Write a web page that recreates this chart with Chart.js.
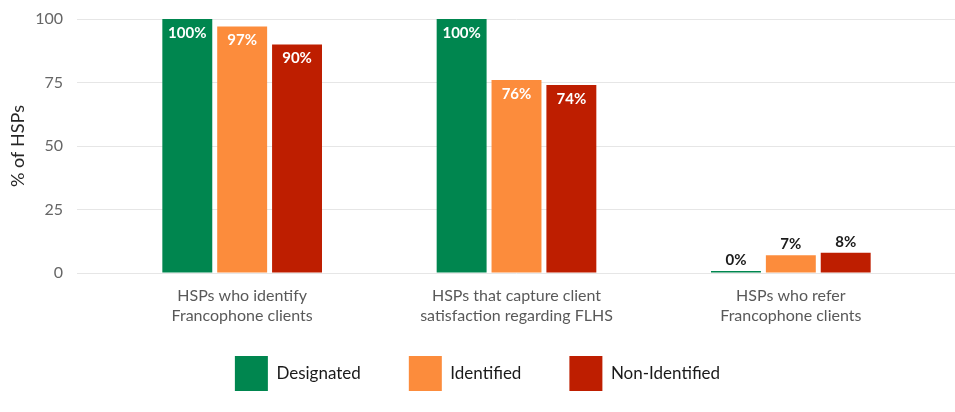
<!DOCTYPE html>
<html>
<head>
<meta charset="utf-8">
<script src="https://cdn.jsdelivr.net/npm/chart.js@4"></script>
<style>
  html, body { margin: 0; padding: 0; background: #fff; }
  #wrap { width: 955px; height: 412px; }
</style>
</head>
<body>
<div id="wrap"><canvas id="chart" width="955" height="412"></canvas></div>
<script>
// Share of HSPs by designation status
const CATEGORIES = [
  ['HSPs who identify', 'Francophone clients'],
  ['HSPs that capture client', 'satisfaction regarding FLHS'],
  ['HSPs who refer', 'Francophone clients'],
];
const DESIGNATED = [100, 100, 0];
const IDENTIFIED = [97, 76, 7];
const NON_IDENTIFIED = [90, 74, 8];
const Y_TICKS = [0, 25, 50, 75, 100];

const FONT = 'Lato';
const GRID = '#e6e6e6';
const LEGEND_HEIGHT = 86;
const LEGEND_LIFT = 18;

// value labels: white inside tall bars, dark above short ones
const valueLabels = {
  id: 'valueLabels',
  afterDatasetsDraw(chart) {
    const ctx = chart.ctx;
    ctx.save();
    ctx.font = 'bold 15px ' + FONT;
    ctx.textAlign = 'center';
    ctx.textBaseline = 'middle';
    chart.data.datasets.forEach((ds, di) => {
      chart.getDatasetMeta(di).data.forEach((bar, i) => {
        const v = ds.data[i];
        const txt = v + '%';
        if (v >= 50) {
          ctx.fillStyle = '#ffffff';
          ctx.fillText(txt, bar.x, bar.y + 14);
        } else {
          ctx.fillStyle = '#1a1a1a';
          ctx.fillText(txt, bar.x, bar.y - 11);
        }
      });
    });
    ctx.restore();
  }
};

// legend padding sets the gap between items, but also inflates the box height;
// clamp the height and pull it up under the axis labels
const legendFit = {
  id: 'legendFit',
  beforeLayout(chart) {
    const lg = chart.legend;
    if (!lg || lg._patched) return;
    const fit = lg.fit.bind(lg);
    lg.fit = function () { fit(); this.height = LEGEND_HEIGHT; };
    lg._patched = true;
  },
  afterLayout(chart) {
    chart.legend.top -= LEGEND_LIFT;
    chart.legend.bottom -= LEGEND_LIFT;
  }
};

const mk = (label, data, color) => ({
  label, data,
  backgroundColor: color,
  borderWidth: 0,
  minBarLength: 2,
  categoryPercentage: 0.6,
  barPercentage: 0.91,
});

new Chart(document.getElementById('chart'), {
  type: 'bar',
  data: {
    labels: CATEGORIES,
    datasets: [
      mk('Designated', DESIGNATED, '#00864f'),
      mk('Identified', IDENTIFIED, '#fc8c3c'),
      mk('Non-Identified', NON_IDENTIFIED, '#be1e00'),
    ],
  },
  plugins: [valueLabels, legendFit],
  options: {
    responsive: false,
    animation: false,
    layout: { padding: { top: 19, bottom: 0 } },
    plugins: {
      legend: {
        position: 'bottom',
        labels: {
          boxWidth: 33,
          boxHeight: 35,
          padding: 48,
          color: '#1a1a1a',
          font: { family: FONT, size: 17 },
        },
      },
      tooltip: { enabled: false },
    },
    scales: {
      x: {
        afterFit: (s) => { s.height = 53; },
        grid: { display: false },
        border: { display: false },
        ticks: {
          color: '#595959',
          padding: 5,
          font: { family: FONT, size: 16, lineHeight: 1.25 },
          maxRotation: 0,
        },
      },
      y: {
        min: 0,
        max: 100,
        afterBuildTicks: (s) => { s.ticks = Y_TICKS.map(v => ({ value: v })); },
        afterFit: (s) => { s.width = 105; s.paddingTop = 0; s.paddingBottom = 0; },
        grid: { color: GRID, tickLength: 28, tickColor: GRID },
        border: { display: false },
        ticks: {
          color: '#666666',
          padding: 14,
          font: { family: FONT, size: 16 },
        },
        title: {
          display: true,
          text: '% of HSPs',
          color: '#262626',
          font: { family: FONT, size: 18 },
          padding: { top: 7, bottom: 0 },
        },
      },
      yRight: {
        position: 'right',
        min: 0,
        max: 100,
        afterBuildTicks: (s) => { s.ticks = Y_TICKS.map(v => ({ value: v })); },
        afterFit: (s) => { s.width = 27; s.paddingTop = 0; s.paddingBottom = 0; },
        grid: { drawOnChartArea: false, tickLength: 27, tickColor: GRID, color: GRID },
        border: { display: false },
        ticks: { display: false },
      },
    },
  },
});
</script>
</body>
</html>
